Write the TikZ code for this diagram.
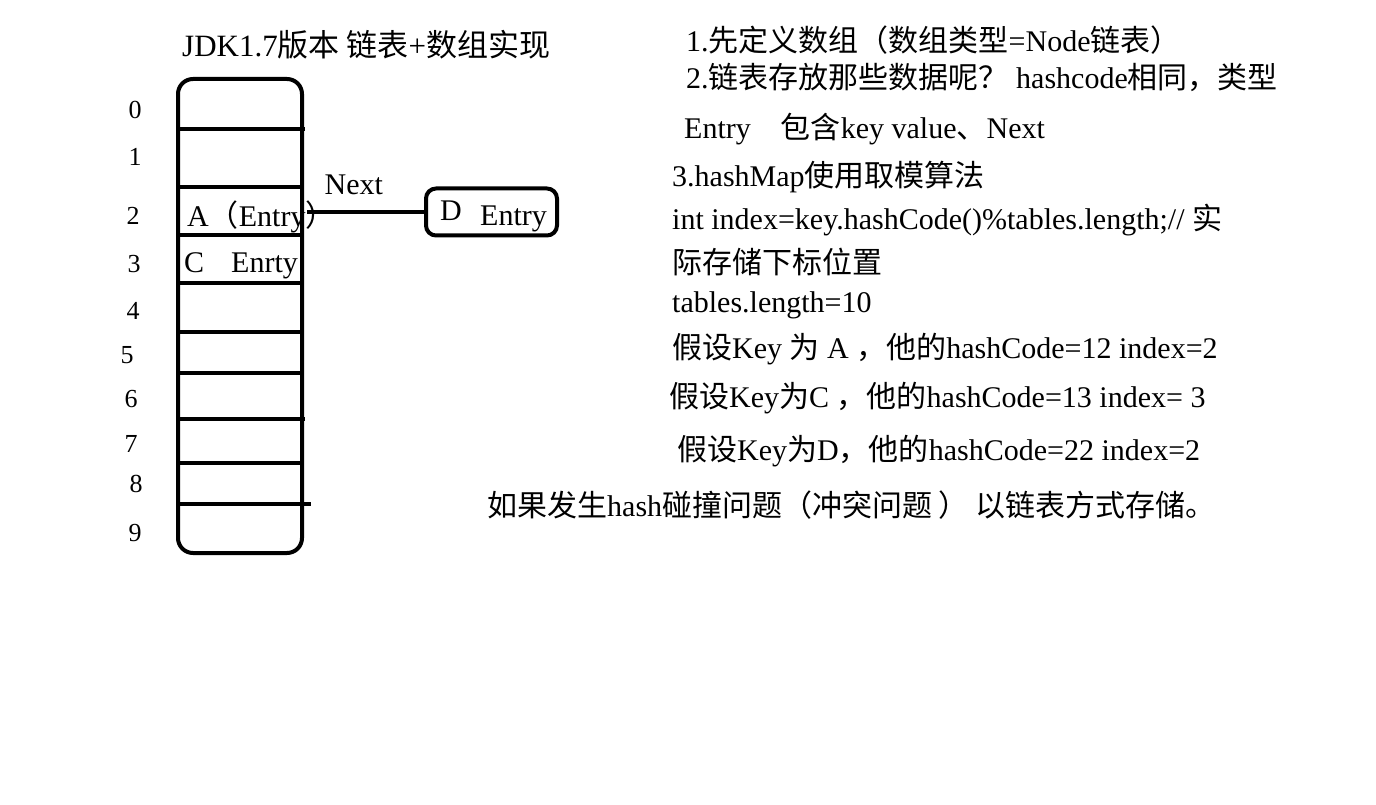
\documentclass[tikz,border=0pt]{standalone}
\usepackage{fontspec}
\setmainfont{Liberation Serif}
\newfontfamily\cjk{Noto Sans CJK SC}
\usepackage{tikz}
\usetikzlibrary{positioning}
\newcommand{\zh}[1]{{\cjk #1}}
\tikzset{
  bucket/.style={draw, line width=4pt, rounded corners=15pt, minimum width=124pt, minimum height=474pt, inner sep=0pt},
  entrybox/.style={draw, line width=4pt, rounded corners=10pt, minimum width=131pt, minimum height=47pt, inner sep=0pt},
  slot/.style={line width=4pt},
  link/.style={line width=4pt},
  idx/.style={inner sep=0pt, font=\fontsize{26}{30}\selectfont},
  celltext/.style={anchor=west, inner sep=0pt, font=\fontsize{30}{34}\selectfont},
  note/.style={anchor=west, inner sep=0pt, font=\fontsize{30}{34}\selectfont},
}
\begin{document}
\begin{tikzpicture}[x=1pt,y=-1pt]
  \useasboundingbox (0,0) rectangle (1376,805);

  % Title
  \node[note, font=\fontsize{31}{35}\selectfont] (title) at (182,45) {JDK1.7\zh{版本 链表}+\zh{数组实现}};

  % Array of buckets
  \node[bucket] (arr) at (240,316) {};
  \foreach \y/\e in {129/305,187/302,235/302,283/304,332/302,373/302,419/305,463/302,504/311}
    \draw[slot] (178,\y) -- (\e,\y);

  % Indexes
  \foreach \i/\x/\y in {0/135/110,1/135/157,2/133/216,3/134/264,4/133/311,5/127/355,6/131/399,7/131/444,8/136/484,9/135/533}
    \node[idx] (i\i) at (\x,\y) {\i};

  % Entries in the buckets
  \node[celltext] (ea) at (187,217) {A\zh{（}Entry\zh{）}};
  \node[celltext] (ec) at (184,266) {C\hspace{0.9em}Enrty};

  % Linked entry
  \node[entrybox] (dbox) at (491.5,212) {};
  \node[celltext] (dkey) at (440,211) {D};
  \node[celltext] (dval) at (480,219) {Entry};
  \coordinate (anext) at (307,212);
  \draw[link] (anext) -- node[pos=0.4, above=15pt, inner sep=0pt, font=\fontsize{30}{34}\selectfont] (nxt) {Next} (dbox.west);

  % Notes
  \node[note] (note1) at (686,40) {1.\zh{先定义数组（数组类型}=Node\zh{链表）}};
  \node[note] (note2) at (686,77) {2.\zh{链表存放那些数据呢？} hashcode\zh{相同，类型}};
  \node[note] (note3) at (684,129) {Entry\quad\zh{包含}key value\zh{、}Next};
  \node[note] (note4) at (672,177) {3.hashMap\zh{使用取模算法}};
  \node[note] (note5) at (672,220) {int index=key.hashCode()\%tables.length;// \zh{实}};
  \node[note] (note6) at (672,262) {\zh{际存储下标位置}};
  \node[note] (note7) at (672,305) {tables.length=10};
  \node[note] (note8) at (672,349) {\zh{假设}Key \zh{为} A \zh{，他的}hashCode=12 index=2};
  \node[note] (note9) at (669,398) {\zh{假设}Key\zh{为}C \zh{，他的}hashCode=13 index= 3};
  \node[note] (note10) at (677,451) {\zh{假设}Key\zh{为}D\zh{，他的}hashCode=22 index=2};
  \node[note] (note11) at (487,505) {\zh{如果发生}hash\zh{碰撞问题（冲突问题 ） 以链表方式存储。}};
\end{tikzpicture}
\end{document}
